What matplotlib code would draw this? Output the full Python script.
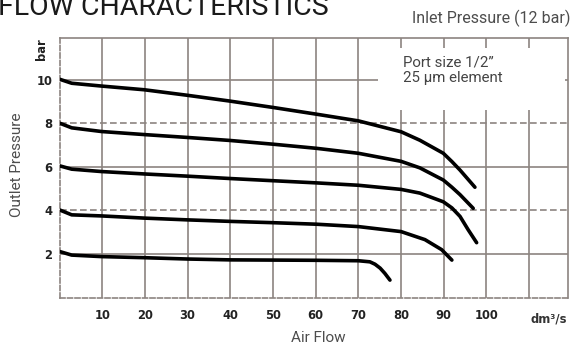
import numpy as np
import matplotlib
matplotlib.use("Agg")
import matplotlib.pyplot as plt
from matplotlib.patches import Rectangle

# flow curves (air flow dm3/s, outlet pressure bar)
flow_10 = [0.1, 2.86, 9.88, 19.86, 29.8, 39.9, 49.9, 60.1, 70.0, 80.0, 84.4, 89.9, 91.9, 93.8, 97.3]
pres_10 = [10.03, 9.85, 9.72, 9.55, 9.30, 9.03, 8.74, 8.43, 8.12, 7.62, 7.23, 6.63, 6.25, 5.86, 5.07]

flow_8 = [0.1, 2.86, 9.88, 19.86, 29.8, 39.9, 49.9, 60.1, 70.0, 80.0, 84.4, 89.9, 91.9, 93.8, 96.9]
pres_8 = [8.01, 7.80, 7.63, 7.49, 7.36, 7.22, 7.05, 6.86, 6.63, 6.26, 5.96, 5.40, 5.07, 4.73, 4.10]

flow_6 = [0.1, 2.86, 9.88, 19.86, 29.8, 39.9, 49.9, 60.1, 70.0, 80.0, 84.4, 89.9, 91.9, 93.8, 95.7, 97.7]
pres_6 = [6.05, 5.90, 5.79, 5.68, 5.58, 5.47, 5.37, 5.27, 5.16, 4.97, 4.80, 4.40, 4.12, 3.73, 3.12, 2.52]

flow_4 = [0.1, 2.86, 9.88, 19.86, 29.8, 39.9, 49.9, 60.1, 70.0, 80.0, 85.6, 89.5, 91.9]
pres_4 = [4.02, 3.80, 3.75, 3.65, 3.57, 3.50, 3.44, 3.37, 3.26, 3.03, 2.66, 2.20, 1.72]

flow_2 = [0.1, 2.86, 9.88, 19.86, 29.8, 39.9, 60.1, 70.0, 72.7, 73.9, 75.1, 76.2, 77.4]
pres_2 = [2.11, 1.95, 1.88, 1.83, 1.77, 1.73, 1.71, 1.69, 1.64, 1.53, 1.35, 1.11, 0.80]

x_ticks = [10, 20, 30, 40, 50, 60, 70, 80, 90, 100]
x_grid = [10, 20, 30, 40, 50, 60, 70, 80, 90, 100, 110]
y_ticks = [2, 4, 6, 8, 10]

grid_col = "#8c8480"
W, H = 573, 350

fig = plt.figure(figsize=(W / 100, H / 100), dpi=100)
ax = fig.add_axes([59.5 / W, 1 - 297.5 / H, (568 - 59.5) / W, (297.5 - 38) / H])
ax.set_xlim(0, 119.1)
ax.set_ylim(0, 11.93)

for x in x_grid:
    ax.axvline(x, color=grid_col, lw=1.2, zorder=1)
for y in y_ticks:
    ls = (0, (4, 2)) if y in (4, 8) else "-"
    ax.axhline(y, color=grid_col, lw=1.2, ls=ls, zorder=1)

for s in ax.spines.values():
    s.set_color(grid_col)
    s.set_linewidth(1.2)
ax.spines["left"].set_linestyle((0, (3, 1.5)))
ax.spines["bottom"].set_linestyle((0, (3, 1.5)))

# white label box hiding the grid behind the note
ax.add_patch(Rectangle((74.6, 8.6), 118.5 - 74.6, 11.45 - 8.6,
                       facecolor="white", edgecolor="none", zorder=2))
ax.text(80.5, 10.45, "Port size 1/2\u201d\n25 \u00b5m element", fontsize=10.8,
        family="Roboto", color="#444444", va="center", ha="left",
        linespacing=1.2, zorder=3)

for fx, py in [(flow_10, pres_10), (flow_8, pres_8), (flow_6, pres_6),
               (flow_4, pres_4), (flow_2, pres_2)]:
    ax.plot(fx, py, color="black", lw=2.6, solid_capstyle="round",
            solid_joinstyle="round", zorder=4)

ax.set_xticks(x_ticks)
ax.set_xticklabels([str(v) for v in x_ticks])
ax.set_yticks(y_ticks)
ax.set_yticklabels([str(v) for v in y_ticks])
ax.tick_params(length=0, labelsize=8.3, labelcolor="#222222", pad=8)
ax.tick_params(axis="y", pad=5)
for lab in ax.get_xticklabels() + ax.get_yticklabels():
    lab.set_fontweight("bold")

ax.text(114.5, -1.0, "dm\u00b3/s", fontsize=8.3, fontweight="bold",
        color="#333333", ha="center", va="center", clip_on=False)
fig.text(41 / W, 1 - 49 / H, "bar", fontsize=8.3, fontweight="bold",
         rotation=90, ha="center", va="center", color="#222222")

fig.text(-2 / W, 1 - 15 / H, "FLOW CHARACTERISTICS", fontsize=20.5,
         family="Roboto", color="#1a1a1a", ha="left", va="baseline")
fig.text(571 / W, 1 - 18 / H, "Inlet Pressure (12 bar)", fontsize=11.5,
         family="Roboto", color="#4d4d4d", ha="right", va="center")
fig.text(17 / W, 1 - 165 / H, "Outlet Pressure", fontsize=11,
         family="Roboto", color="#4d4d4d", rotation=90, ha="center", va="center")
fig.text(318 / W, 1 - 338 / H, "Air Flow", fontsize=11,
         family="Roboto", color="#4d4d4d", ha="center", va="center")

fig.savefig("out.png", dpi=100)
